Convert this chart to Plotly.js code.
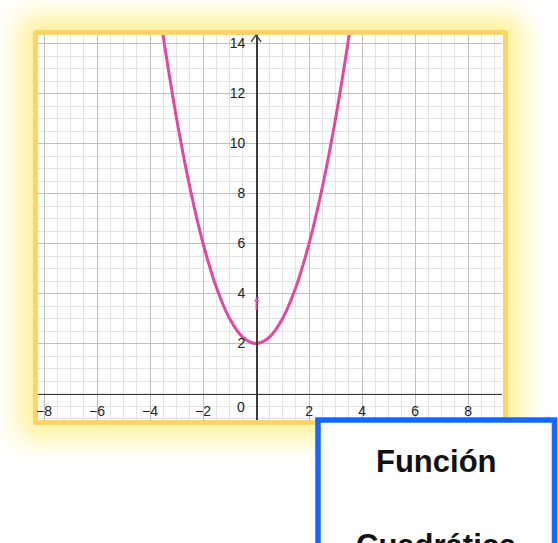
<!DOCTYPE html>
<html>
<head>
<meta charset="utf-8">
<script src="https://cdn.plot.ly/plotly-3.0.1.min.js"></script>
<style>
  html, body { margin: 0; padding: 0; background: #ffffff; }
  #wrap { position: relative; width: 558px; height: 543px; overflow: hidden; }
  /* yellow frame with a soft glow around the graph */
  #frame {
    position: absolute; left: 33px; top: 30px; width: 465px; height: 385px;
    border: 5px solid rgb(255, 214, 100); border-radius: 3px;
    box-shadow: 0 0 26px 15px rgba(255, 241, 150, 0.95);
    background: #ffffff; z-index: 0;
  }
  #chart { position: absolute; left: 0; top: 0; width: 558px; height: 543px; z-index: 1; }
</style>
</head>
<body>
<div id="wrap">
  <div id="frame"></div>
  <div id="chart"></div>
</div>
<script>
// sampled points of f
const xVals = [-3.7, -3.5, -3, -2.5, -2, -1.5, -1, -0.5, 0, 0.5, 1, 1.5, 2, 2.5, 3, 3.5, 3.7];
const yVals = [15.69, 14.25, 11, 8.25, 6, 4.25, 3, 2.25, 2, 2.25, 3, 4.25, 6, 8.25, 11, 14.25, 15.69];

// axis tick values
const xTicks = [-8, -6, -4, -2, 2, 4, 6, 8];
const yTicks = [2, 4, 6, 8, 10, 12, 14];

// caption lines
const captionLines = ['Función', 'Cuadrática'];

const xRange = [-8.23, 9.28];
const yRange = [-1.06, 14.34];

const pink = 'rgb(226, 72, 158)';
const axisColor = '#3a3a3a';
const tickFont = { family: 'Liberation Sans, Arial, sans-serif', size: 14, color: '#222' };

const trace = {
  x: xVals, y: yVals,
  type: 'scatter', mode: 'lines',
  line: { color: pink, width: 3, shape: 'spline', smoothing: 1 },
  hoverinfo: 'skip'
};

const layout = {
  width: 558, height: 543,
  margin: { l: 38, r: 56, t: 35, b: 123 },
  paper_bgcolor: 'rgba(0,0,0,0)',
  plot_bgcolor: '#ffffff',
  showlegend: false,
  xaxis: {
    range: xRange, anchor: 'free', position: (yRange[0] * -1) / (yRange[1] - yRange[0]),
    tickmode: 'array', tickvals: xTicks,
    showgrid: true, gridcolor: 'rgb(192,192,192)', gridwidth: 1,
    minor: { tickmode: 'linear', tick0: 0, dtick: 0.5, showgrid: true, gridcolor: 'rgb(228,228,228)', gridwidth: 1 },
    zeroline: false, showline: true, linecolor: axisColor, linewidth: 1.5,
    ticks: '', ticklabelstandoff: 4, tickfont: tickFont, fixedrange: true
  },
  yaxis: {
    range: yRange, anchor: 'free', position: (xRange[0] * -1) / (xRange[1] - xRange[0]),
    tickmode: 'array', tickvals: yTicks,
    showgrid: true, gridcolor: 'rgb(192,192,192)', gridwidth: 1,
    minor: { tickmode: 'linear', tick0: 0, dtick: 0.5, showgrid: true, gridcolor: 'rgb(228,228,228)', gridwidth: 1 },
    zeroline: false, showline: true, linecolor: axisColor, linewidth: 1.5,
    ticks: '', ticklabelstandoff: 8, tickfont: tickFont, fixedrange: true
  },
  shapes: [
    // arrow head at the top of the y axis
    {
      type: 'path', xref: 'x', yref: 'paper',
      path: 'M -0.19 0.982 L 0 1 L 0.19 0.982',
      line: { color: axisColor, width: 1.3 }
    },
    // blue caption box
    {
      type: 'rect', xref: 'paper', yref: 'paper',
      x0: 0.6034, x1: 1.1131, y0: 0.0, y1: -0.4,
      line: { color: 'rgb(18, 104, 255)', width: 5.5 },
      fillcolor: '#ffffff', layer: 'above'
    }
  ],
  annotations: [
    // origin label
    { x: 0, y: 0, xref: 'x', yref: 'y', text: '0', showarrow: false,
      xshift: -15, yshift: -13.5, font: tickFont },
    // function name
    { x: 0.04, y: 3.58, xref: 'x', yref: 'y', text: 'f', showarrow: false,
      font: { family: 'Liberation Sans, Arial, sans-serif', size: 18, color: pink } },
    // caption
    { x: 0.858, y: -0.1065, xref: 'paper', yref: 'paper', text: '<b>' + captionLines[0] + '</b>',
      showarrow: false, xanchor: 'center', yanchor: 'middle',
      font: { family: 'Liberation Sans, Arial, sans-serif', size: 31, color: '#111' } },
    { x: 0.858, y: -0.327, xref: 'paper', yref: 'paper', text: '<b>' + captionLines[1] + '</b>',
      showarrow: false, xanchor: 'center', yanchor: 'middle',
      font: { family: 'Liberation Sans, Arial, sans-serif', size: 31, color: '#111' } }
  ]
};

Plotly.newPlot('chart', [trace], layout, { staticPlot: true, displayModeBar: false });
</script>
</body>
</html>
